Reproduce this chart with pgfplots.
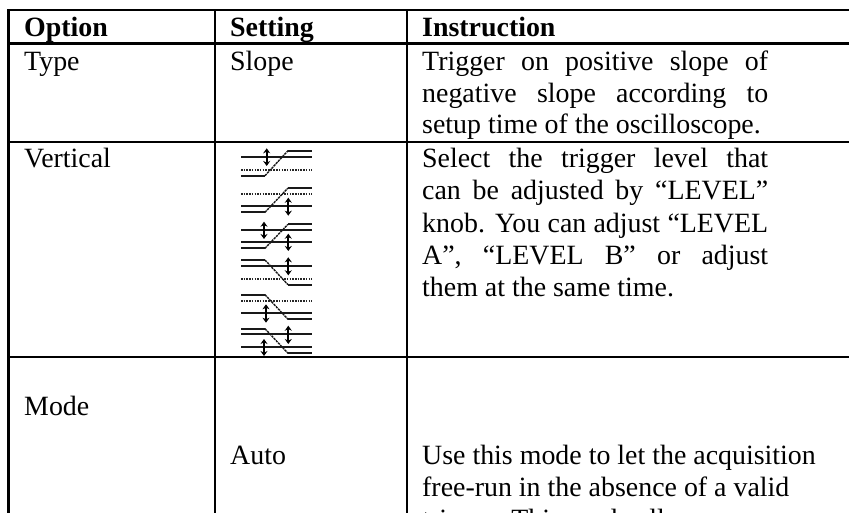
\documentclass[border=0pt]{standalone}
\usepackage{fontspec}
\setmainfont{Liberation Serif}
\usepackage{pgfplots}
\pgfplotsset{compat=1.18}
\usetikzlibrary{arrows.meta}
\newcommand{\myrl}[4]{\addplot[black,line width=2.2pt,line cap=rect] coordinates {(#1,#2) (#3,#4)};}
\newcommand{\myhs}[3]{\addplot[black!90,line width=2pt] coordinates {(#1,#3) (#2,#3)};}
\newcommand{\myhd}[1]{\addplot[black!85,line width=1.7pt,dash pattern=on 1.5pt off 1.2pt] coordinates {(241,#1) (312,#1)};}
\newcommand{\mysl}[4]{\addplot[black!90,line width=1.4pt,dash pattern=on 2.4pt off 0.8pt] coordinates {(#1,#2) (#3,#4)};}
\newcommand{\myar}[3]{\addplot[black,line width=1.7pt,{Stealth[length=5pt,width=7pt]}-{Stealth[length=5pt,width=7pt]}] coordinates {(#1,#2) (#1,#3)};}
\newcommand{\mytx}[3]{\node[anchor=base west,inner sep=0pt,text=black] at (axis cs:#1,#2) {#3};}
\newcommand{\myjt}[2]{\node[anchor=base west,inner sep=0pt,text=black] at (axis cs:422,#1) {\makebox[346pt][s]{#2}};}
\begin{document}
\begin{tikzpicture}
\path[use as bounding box,clip] (0,0) rectangle (849pt,513pt);
\begin{axis}[at={(0,0)},anchor=south west,scale only axis,width=849pt,height=513pt,
  xmin=0,xmax=849,ymin=0,ymax=513,y dir=reverse,hide axis,clip=false,
  nodes={font=\fontsize{27.9}{32}\selectfont}]
% table rules
\myrl{8.5}{10}{849}{10}
\myrl{8.5}{43.5}{849}{43.5}
\myrl{8.5}{141.7}{849}{141.7}
\myrl{8.5}{356.7}{849}{356.7}
\myrl{8.5}{10}{8.5}{520}
\myrl{215}{10}{215}{520}
\myrl{407}{10}{407}{520}
% icon 1
\myhs{241}{312}{156.7}\myhs{288}{312}{150.7}\myhs{241}{265}{175.7}\myhd{169.7}
\mysl{265}{175.7}{288}{150.7}\myar{266.7}{148.3}{166}
% icon 2
\myhd{194}\myhs{288}{312}{188}\myhs{241}{265}{212.3}\myhs{241}{312}{206.3}
\mysl{265}{212.3}{288}{188}\myar{288.3}{197.7}{215.7}
% icon 3
\myhs{288}{312}{224.3}\myhs{241}{312}{229.7}\myhs{241}{312}{242}\myhs{241}{265}{248.3}
\mysl{265}{248.3}{288}{224.3}\myar{264}{221.7}{239}\myar{288.3}{233.7}{251}
% icon 4
\myhs{241}{265}{260}\myhs{241}{312}{266}\myhd{278.7}\myhs{288}{312}{284.7}
\mysl{265}{260}{288}{284.7}\myar{288.3}{257.3}{275.3}
% icon 5
\myhs{241}{265}{294.7}\myhd{301}\myhs{241}{312}{313.3}\myhs{288}{312}{319.3}
\mysl{265}{294.7}{288}{319.3}\myar{266}{304.3}{322.7}
% icon 6
\myhs{241}{265}{328.7}\myhs{241}{312}{334.3}\myhs{241}{312}{347.3}\myhs{288}{312}{353.3}
\mysl{265}{328.7}{288}{353.3}\myar{288.3}{325.7}{344}\myar{264}{339}{356}
% text
\mytx{24}{36.7}{\textbf{Option}}
\mytx{230}{36.7}{\textbf{Setting}}
\mytx{422}{36.7}{\textbf{Instruction}}
\mytx{24}{70.5}{Type}
\mytx{230}{70.5}{Slope}
\myjt{70.7}{Trigger on positive slope of}
\myjt{102.7}{negative slope according to}
\mytx{422}{134}{setup time of the oscilloscope.}
\mytx{24}{168}{Vertical}
\myjt{168}{Select the trigger level that}
\myjt{200}{can be adjusted by “LEVEL”}
\myjt{232.7}{knob. You can adjust “LEVEL}
\myjt{265}{A”, “LEVEL B” or adjust}
\mytx{422}{296.7}{them at the same time.}
\mytx{24}{415}{Mode}
\mytx{230}{464}{Auto}
\mytx{422}{464}{Use this mode to let the acquisition}
\mytx{422}{496}{free-run in the absence of a valid}
\mytx{422}{528}{trigger. This mode allows}
\end{axis}
\end{tikzpicture}
\end{document}
